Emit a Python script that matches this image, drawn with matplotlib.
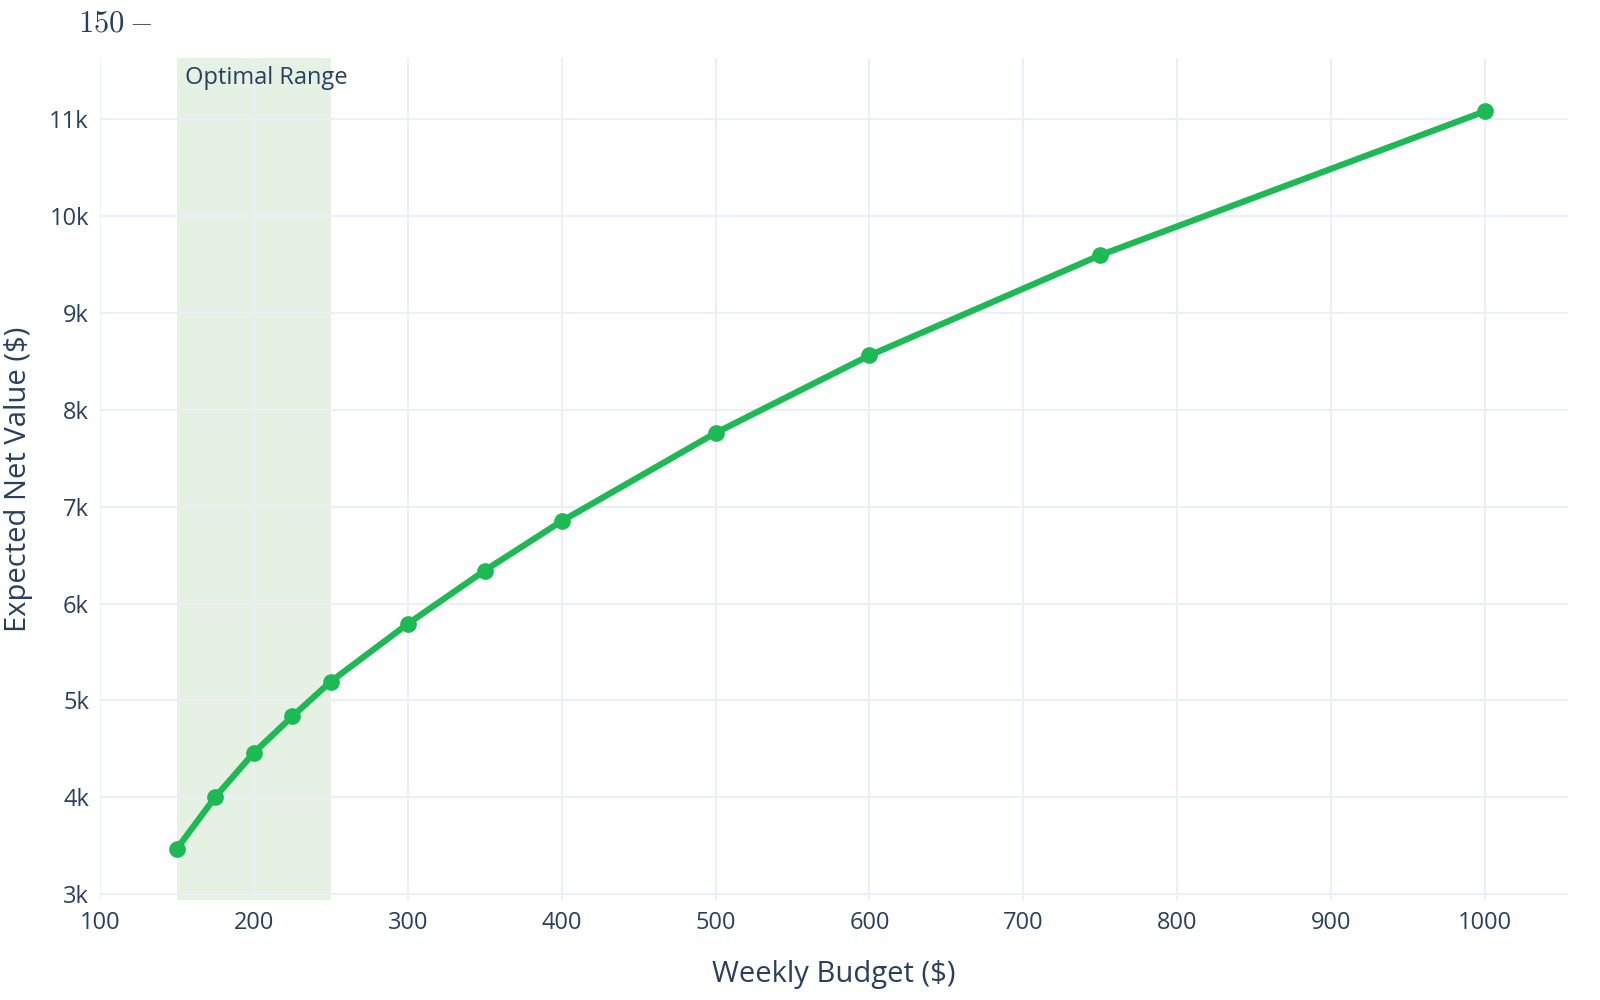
import matplotlib
matplotlib.use("Agg")
import matplotlib.pyplot as plt
from matplotlib.ticker import FuncFormatter

budget = [150, 175, 200, 225, 250, 300, 350, 400, 500, 600, 750, 1000]
net_value = [3470, 4005, 4460, 4835, 5195, 5790, 6340, 6850, 7760, 8560, 9595, 11080]
x_ticks = [100, 200, 300, 400, 500, 600, 700, 800, 900, 1000]
y_ticks = [3000, 4000, 5000, 6000, 7000, 8000, 9000, 10000, 11000]
optimal_range = (150, 250)

txt = "#2a3f5f"
plt.rcParams['font.family'] = ['Open Sans', 'DejaVu Sans']
plt.rcParams['mathtext.fontset'] = 'cm'
fig = plt.figure(figsize=(16, 10), dpi=100)
ax = fig.add_axes([100/1600, 0.1, 1468/1600, 0.842])
ax.axvspan(*optimal_range, color="#e5f1e3", zorder=0, lw=0)
ax.plot(budget, net_value, color="#1db954", lw=4.5, marker="o", ms=11, zorder=3)
ax.set_xlim(100, 1054)
ax.set_ylim(2940, 11630)
ax.set_xticks(x_ticks)
ax.set_yticks(y_ticks)
ax.yaxis.set_major_formatter(FuncFormatter(lambda v, p: f"{int(v/1000)}k"))
ax.grid(color="#ebf0f8", lw=1.5, zorder=1)
ax.set_axisbelow(True)
for s in ax.spines.values():
    s.set_visible(False)
ax.tick_params(colors=txt, labelsize=17, length=0, pad=8)
ax.set_xlabel("Weekly Budget ($)", fontsize=21, color=txt, labelpad=18)
ax.set_ylabel("Expected Net Value ($)", fontsize=21, color=txt, labelpad=12)
ax.text(155, 11550, "Optimal Range", fontsize=17, color=txt, va="top", ha="left")
fig.text(78/1600, 1-24/1000, "$150-$", fontsize=22, color=txt, va="center", ha="left")
fig.savefig("out.png")
